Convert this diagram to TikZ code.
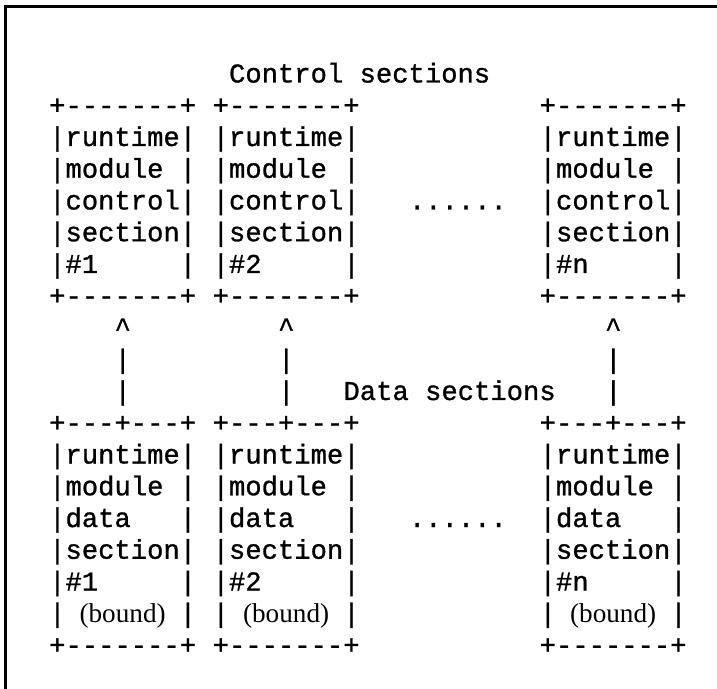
\documentclass[tikz,border=0pt]{standalone}
\usepackage{fontspec}
\setmonofont{Liberation Mono}[FakeBold=1]
\newfontfamily\boundfont{Liberation Serif}

% one character cell of the listing grid
\newcommand{\gridpt}[2]{({48.8+(#1)*16.35},{75+(#2)*31.75})}
% the "(bound)" entry is set in a proportional face, centred in its 7 cells
\newcommand{\boundtxt}{\makebox[4.2em][c]{\boundfont(bound)}}

\begin{document}
\begin{tikzpicture}[x=0.5pt, y=-0.5pt,
  txt/.style={anchor=west, inner sep=0pt, font=\ttfamily\fontsize{13.6}{16}\selectfont, text height=8pt, text depth=0.5pt},
  frame/.style={line width=1.5pt, line cap=rect}
]
\useasboundingbox (0,0) rectangle (717,689);
\draw[frame] (5.5,689) -- (5.5,6.5) -- (717,6.5);

\node[txt] (ctlhead) at \gridpt{11}{0} {Control sections};
\node[txt] (dathead) at \gridpt{18}{10} {Data sections};
\node[txt] (ctldots) at \gridpt{22}{4} {......};
\node[txt] (datdots) at \gridpt{22}{14} {......};

\foreach \n/\c/\k in {1/0/1, 2/10/2, 3/30/n} {
  % control section box
  \node[txt] (ctl\n-top) at \gridpt{\c}{1} {+-------+};
  \node[txt] (ctl\n-a)   at \gridpt{\c}{2} {|runtime|};
  \node[txt] (ctl\n-b)   at \gridpt{\c}{3} {|module~|};
  \node[txt] (ctl\n-c)   at \gridpt{\c}{4} {|control|};
  \node[txt] (ctl\n-d)   at \gridpt{\c}{5} {|section|};
  \node[txt] (ctl\n-e)   at \gridpt{\c}{6} {|\#\k~~~~~|};
  \node[txt] (ctl\n-bot) at \gridpt{\c}{7} {+-------+};
  % link up from the data box
  \node[txt] (up\n-a) at \gridpt{\c+4}{8}  {\string^};
  \node[txt] (up\n-b) at \gridpt{\c+4}{9}  {|};
  \node[txt] (up\n-c) at \gridpt{\c+4}{10} {|};
  % data section box
  \node[txt] (dat\n-top) at \gridpt{\c}{11} {+---+---+};
  \node[txt] (dat\n-a)   at \gridpt{\c}{12} {|runtime|};
  \node[txt] (dat\n-b)   at \gridpt{\c}{13} {|module~|};
  \node[txt] (dat\n-c)   at \gridpt{\c}{14} {|data~~~|};
  \node[txt] (dat\n-d)   at \gridpt{\c}{15} {|section|};
  \node[txt] (dat\n-e)   at \gridpt{\c}{16} {|\#\k~~~~~|};
  \node[txt] (dat\n-f)   at \gridpt{\c}{17} {|\boundtxt|};
  \node[txt] (dat\n-bot) at \gridpt{\c}{18} {+-------+};
}
\end{tikzpicture}
\end{document}
